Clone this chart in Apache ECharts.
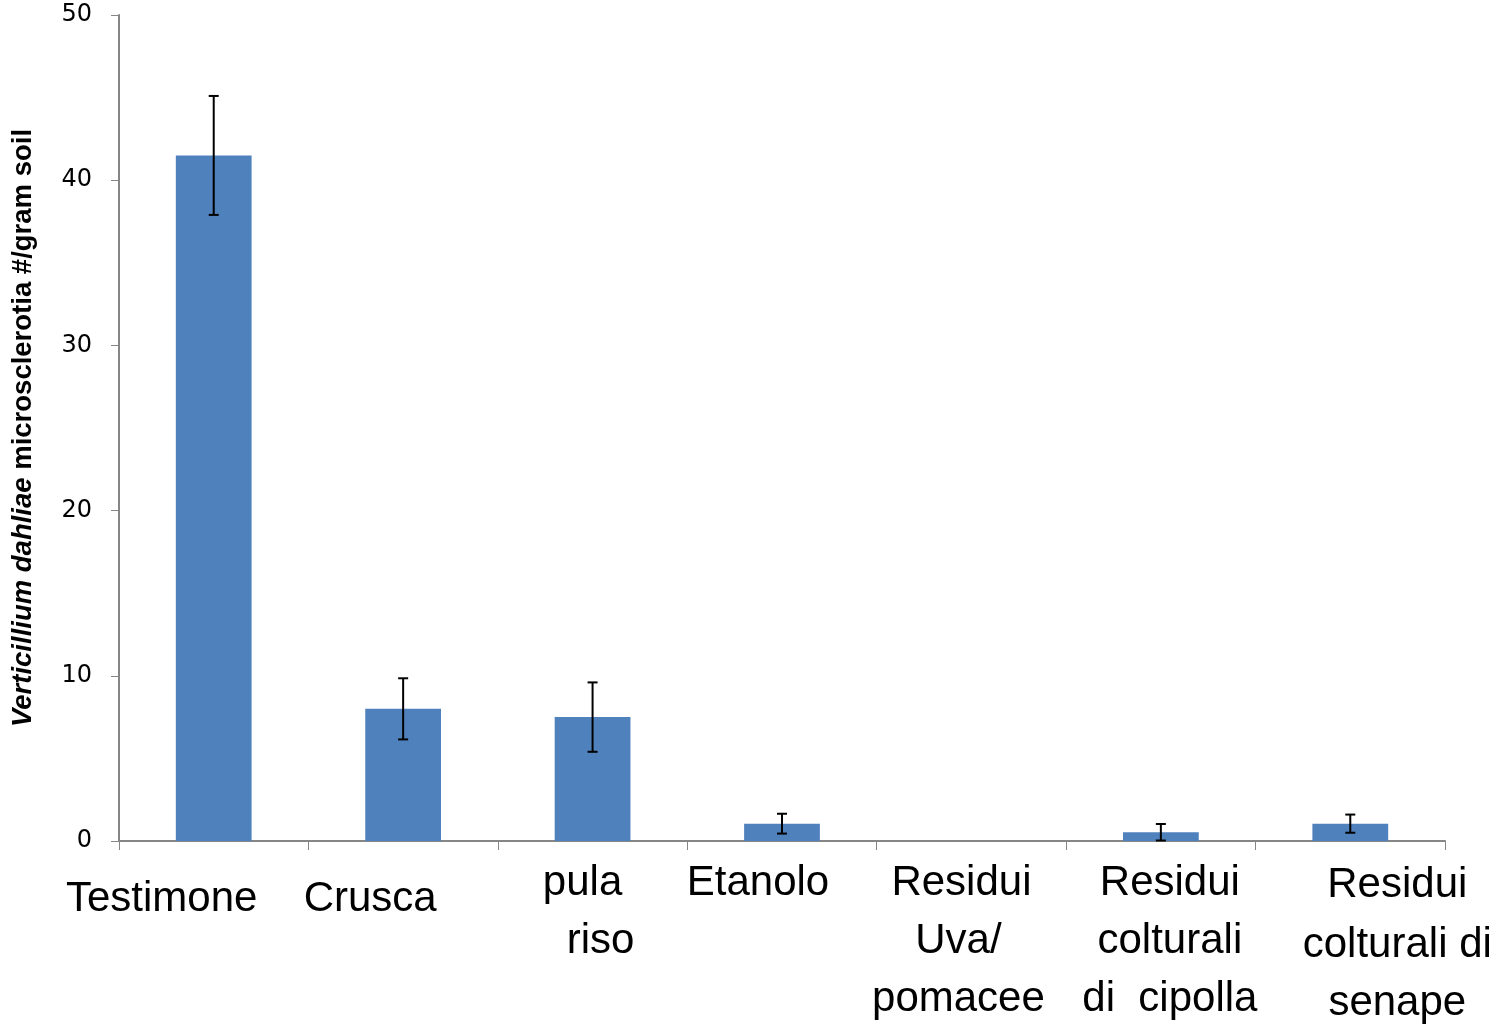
<!DOCTYPE html>
<html>
<head>
<meta charset="utf-8">
<script src="https://cdn.jsdelivr.net/npm/echarts@6/dist/echarts.min.js"></script>
<style>
  html, body { margin: 0; padding: 0; background: #fff; }
  #chart { width: 1502px; height: 1024px; }
</style>
</head>
<body>
<div id="chart"></div>
<script>
// Treatments (x categories), line breaks as printed under the axis
const categories = [
  'Testimone',
  'Crusca',
  'pula\nriso',
  'Etanolo',
  'Residui\nUva/\npomacee',
  'Residui\ncolturali\ndi  cipolla',
  'Residui\ncolturali di\nsenape'
];

// Mean microsclerotia per gram of soil
const means = [41.5, 8.0, 7.5, 1.05, 0, 0.53, 1.05];

// Error bar half-widths (null = no bar drawn)
const errors = [3.6, 1.85, 2.1, 0.6, null, 0.5, 0.55];

// Value axis ticks
const yTicks = [0, 10, 20, 30, 40, 50];

// Label layout tweaks: horizontal shift per line, extra drop of first line
const labelShift = [[-52], [-33], [-10, 8], [-24], [-10, -13, -13], [9, 9, 9], [47, 47, 47]];
const labelDrop = [16, 16, 0, 0, 0, 0, 2];

const LABEL_FONT = 42;
const LINE_H = 58;

const rich = {};
categories.forEach((c, i) => {
  c.split('\n').forEach((line, j) => {
    const dx = (labelShift[i] && labelShift[i][j]) || 0;
    rich['c' + i + 'l' + j] = {
      fontFamily: 'Liberation Sans',
      fontSize: LABEL_FONT,
      color: '#000',
      lineHeight: j === 0 ? LINE_H + 2 * labelDrop[i] : LINE_H,
      padding: dx >= 0 ? [0, 0, 0, 2 * dx] : [0, -2 * dx, 0, 0]
    };
  });
});

const errData = means.map((m, i) => errors[i] == null ? [i, null, null] : [i, Math.max(0, m - errors[i]), m + errors[i]]);

const chart = echarts.init(document.getElementById('chart'), null, { renderer: 'canvas' });

chart.setOption({
  animation: false,
  backgroundColor: '#ffffff',
  grid: { left: 119, right: 57, top: 15, bottom: 183, containLabel: false, outerBoundsMode: 'none' },
  xAxis: {
    type: 'category',
    data: categories,
    axisLine: { show: true, lineStyle: { color: '#868686', width: 2 } },
    axisTick: { show: true, length: 9, lineStyle: { color: '#868686', width: 1 } },
    axisLabel: {
      interval: 0,
      margin: 13,
      hideOverlap: false,
      formatter: (value, idx) => value.split('\n').map((line, j) => '{c' + idx + 'l' + j + '|' + line + '}').join('\n'),
      rich: rich
    },
    splitLine: { show: false }
  },
  yAxis: {
    type: 'value',
    min: yTicks[0],
    max: yTicks[yTicks.length - 1],
    interval: yTicks[1] - yTicks[0],
    axisLine: { show: true, lineStyle: { color: '#868686', width: 2 } },
    axisTick: { show: true, length: 8, lineStyle: { color: '#868686', width: 1 } },
    axisLabel: { margin: 27, fontFamily: 'DejaVu Sans', fontSize: 24, color: '#000' },
    splitLine: { show: false },
    name: '{i|Verticillium dahliae}{b| microsclerotia #/gram soil}',
    nameLocation: 'middle',
    nameRotate: 90,
    nameGap: 82,
    nameTextStyle: {
      rich: {
        i: { fontFamily: 'Liberation Sans', fontSize: 27.5, fontWeight: 'bold', fontStyle: 'italic', color: '#000' },
        b: { fontFamily: 'Liberation Sans', fontSize: 27.5, fontWeight: 'bold', color: '#000' }
      }
    }
  },
  series: [
    {
      type: 'bar',
      data: means,
      barWidth: '40%',
      itemStyle: { color: '#4F81BD' }
    },
    {
      type: 'custom',
      data: errData,
      encode: { x: 0, y: [1, 2] },
      z: 10,
      renderItem: (params, api) => {
        const lo = api.value(1);
        const hi = api.value(2);
        if (lo == null || hi == null || isNaN(lo) || isNaN(hi)) return null;
        const top = api.coord([api.value(0), hi]);
        const bot = api.coord([api.value(0), lo]);
        const cap = 5;
        const style = { stroke: '#000', lineWidth: 2 };
        return {
          type: 'group',
          children: [
            { type: 'line', shape: { x1: top[0], y1: top[1], x2: bot[0], y2: bot[1] }, style },
            { type: 'line', shape: { x1: top[0] - cap, y1: top[1], x2: top[0] + cap, y2: top[1] }, style },
            { type: 'line', shape: { x1: bot[0] - cap, y1: bot[1], x2: bot[0] + cap, y2: bot[1] }, style }
          ]
        };
      }
    }
  ]
});
</script>
</body>
</html>
